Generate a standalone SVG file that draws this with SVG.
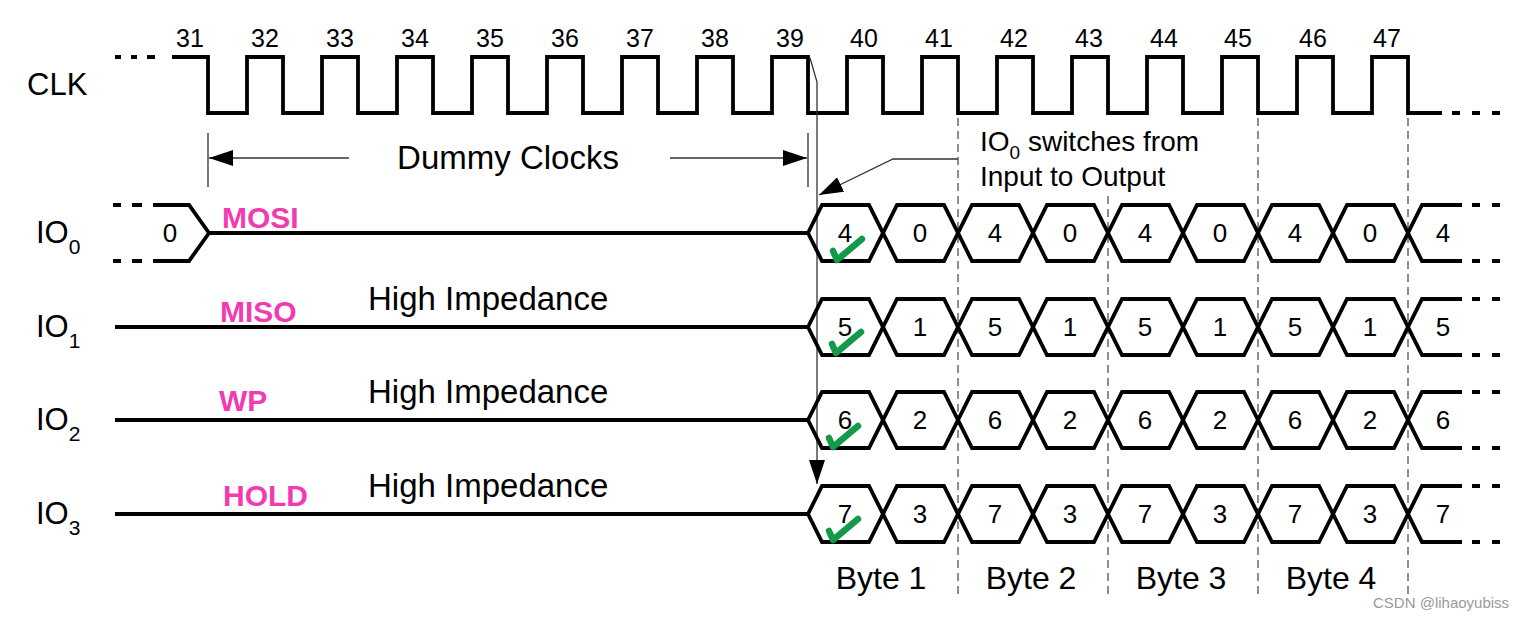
<svg xmlns="http://www.w3.org/2000/svg" width="1532" height="621" viewBox="0 0 1532 621">
<style>
text{font-family:"Liberation Sans",Arial,sans-serif;fill:#000}
.sig{fill:none;stroke:#000;stroke-width:3.8;stroke-linejoin:miter}
.dash{fill:none;stroke:#000;stroke-width:3.8}
.thin{fill:none;stroke:#333;stroke-width:1.3}
.grid{fill:none;stroke:#444;stroke-width:1.2;stroke-dasharray:8 5}
.lbl{font-size:31px}
.num{font-size:25px;text-anchor:middle}
.val{font-size:26px;text-anchor:middle}
.big{font-size:33px}
.note{font-size:28px}
.pink{font-size:30px;font-weight:bold;fill:#f03cb0}
.byte{font-size:32px;text-anchor:middle}
.chk{fill:none;stroke:#12994a;stroke-width:6.5;stroke-linecap:round;stroke-linejoin:round}
</style>
<defs>
<marker id="ah" markerWidth="24" markerHeight="16" refX="24" refY="8" orient="auto" markerUnits="userSpaceOnUse">
<path d="M0,0 L24,8 L0,16 Z" fill="#000"/>
</marker>
<g id="bus">
<path class="sig" d="M808,0 L822,-28 H869 L897,28 H944 L972,-28 H1019 L1047,28 H1094 L1122,-28 H1169 L1197,28 H1244 L1272,-28 H1319 L1347,28 H1394 L1422,-28 H1462"/>
<path class="sig" d="M808,0 L822,28 H869 L897,-28 H944 L972,28 H1019 L1047,-28 H1094 L1122,28 H1169 L1197,-28 H1244 L1272,28 H1319 L1347,-28 H1394 L1422,28 H1462"/>
<path class="dash" d="M1472,-28 H1480 M1492,-28 H1500 M1472,28 H1480 M1492,28 H1500"/>
</g>
<path id="check" class="chk" d="M-4,-9 L0,0 L25,-21"/>
</defs>

<g id="grid">
<path class="grid" d="M958,118 V597 M1108,196 V597 M1258,118 V597 M1408,118 V597"/>
</g>

<g id="clk">
<text class="lbl" x="27" y="95">CLK</text>
<path class="dash" d="M115,57 H121 M131,57 H137 M147,57 H155"/>
<path class="sig" d="M172,57 H208 V113 H247 V57 H283 V113 H322 V57 H358 V113 H397 V57 H433 V113 H472 V57 H508 V113 H547 V57 H583 V113 H622 V57 H658 V113 H697 V57 H733 V113 H772 V57 H808 V113 H847 V57 H883 V113 H922 V57 H958 V113 H997 V57 H1033 V113 H1072 V57 H1108 V113 H1147 V57 H1183 V113 H1222 V57 H1258 V113 H1297 V57 H1333 V113 H1372 V57 H1408 V113 H1442"/>
<path class="dash" d="M1452,113 H1460 M1472,113 H1480 M1492,113 H1500"/>
<text class="num" x="190" y="47">31</text>
<text class="num" x="265" y="47">32</text>
<text class="num" x="340" y="47">33</text>
<text class="num" x="415" y="47">34</text>
<text class="num" x="490" y="47">35</text>
<text class="num" x="565" y="47">36</text>
<text class="num" x="640" y="47">37</text>
<text class="num" x="715" y="47">38</text>
<text class="num" x="790" y="47">39</text>
<text class="num" x="864" y="47">40</text>
<text class="num" x="939" y="47">41</text>
<text class="num" x="1014" y="47">42</text>
<text class="num" x="1089" y="47">43</text>
<text class="num" x="1164" y="47">44</text>
<text class="num" x="1238" y="47">45</text>
<text class="num" x="1313" y="47">46</text>
<text class="num" x="1387" y="47">47</text>
</g>

<g id="dummy">
<path class="thin" d="M208,133 V187 M808,133 V187"/>
<path class="thin" d="M349,158 H209" marker-end="url(#ah)"/>
<path class="thin" d="M670,158 H807" marker-end="url(#ah)"/>
<text class="big" x="508" y="169" text-anchor="middle">Dummy Clocks</text>
</g>

<g id="connectors">
<path class="thin" d="M810,58 L817,82 V484" marker-end="url(#ah)"/>
<path class="thin" d="M958,159 H893 L819,195" marker-end="url(#ah)"/>
</g>

<g id="note">
<text class="note" x="980" y="151">IO<tspan font-size="19" dy="8">0</tspan><tspan dy="-8"> switches from</tspan></text>
<text class="note" x="980" y="186">Input to Output</text>
</g>

<g id="io0">
<text class="lbl" x="36" y="243">IO<tspan font-size="21" dy="11">0</tspan></text>
<path class="dash" d="M113,205 H121 M132,205 H142 M113,261 H121 M132,261 H142"/>
<path class="sig" d="M153,205 H189 L209,233 L189,261 H153 M209,233 H808"/>
<text class="val" x="170" y="242">0</text>
<text class="pink" x="222" y="228">MOSI</text>
<use href="#bus" transform="translate(0,233)"/>
<text class="val" x="845" y="242">4</text>
<text class="val" x="920" y="242">0</text>
<text class="val" x="995" y="242">4</text>
<text class="val" x="1070" y="242">0</text>
<text class="val" x="1145" y="242">4</text>
<text class="val" x="1220" y="242">0</text>
<text class="val" x="1295" y="242">4</text>
<text class="val" x="1370" y="242">0</text>
<text class="val" x="1443" y="242">4</text>
<use href="#check" transform="translate(837,260)"/>
</g>

<g id="io1">
<text class="lbl" x="36" y="337">IO<tspan font-size="21" dy="11">1</tspan></text>
<path class="sig" d="M115,327 H808"/>
<text class="pink" x="220" y="322">MISO</text>
<text class="big" x="368" y="310">High Impedance</text>
<use href="#bus" transform="translate(0,327)"/>
<text class="val" x="845" y="336">5</text>
<text class="val" x="920" y="336">1</text>
<text class="val" x="995" y="336">5</text>
<text class="val" x="1070" y="336">1</text>
<text class="val" x="1145" y="336">5</text>
<text class="val" x="1220" y="336">1</text>
<text class="val" x="1295" y="336">5</text>
<text class="val" x="1370" y="336">1</text>
<text class="val" x="1443" y="336">5</text>
<use href="#check" transform="translate(836,353)"/>
</g>

<g id="io2">
<text class="lbl" x="36" y="430">IO<tspan font-size="21" dy="11">2</tspan></text>
<path class="sig" d="M115,420 H808"/>
<text class="pink" x="219" y="411">WP</text>
<text class="big" x="368" y="403">High Impedance</text>
<use href="#bus" transform="translate(0,420)"/>
<text class="val" x="845" y="429">6</text>
<text class="val" x="920" y="429">2</text>
<text class="val" x="995" y="429">6</text>
<text class="val" x="1070" y="429">2</text>
<text class="val" x="1145" y="429">6</text>
<text class="val" x="1220" y="429">2</text>
<text class="val" x="1295" y="429">6</text>
<text class="val" x="1370" y="429">2</text>
<text class="val" x="1443" y="429">6</text>
<use href="#check" transform="translate(833,447)"/>
</g>

<g id="io3">
<text class="lbl" x="36" y="524">IO<tspan font-size="21" dy="11">3</tspan></text>
<path class="sig" d="M115,514 H808"/>
<text class="pink" x="223" y="506">HOLD</text>
<text class="big" x="368" y="497">High Impedance</text>
<use href="#bus" transform="translate(0,514)"/>
<text class="val" x="845" y="523">7</text>
<text class="val" x="920" y="523">3</text>
<text class="val" x="995" y="523">7</text>
<text class="val" x="1070" y="523">3</text>
<text class="val" x="1145" y="523">7</text>
<text class="val" x="1220" y="523">3</text>
<text class="val" x="1295" y="523">7</text>
<text class="val" x="1370" y="523">3</text>
<text class="val" x="1443" y="523">7</text>
<use href="#check" transform="translate(833,540)"/>
</g>

<g id="bytes">
<text class="byte" x="881" y="589">Byte 1</text>
<text class="byte" x="1031" y="589">Byte 2</text>
<text class="byte" x="1181" y="589">Byte 3</text>
<text class="byte" x="1331" y="589">Byte 4</text>
</g>

<text x="1373" y="608" font-size="15" style="fill:#9a9a9a">CSDN @lihaoyubiss</text>
</svg>
